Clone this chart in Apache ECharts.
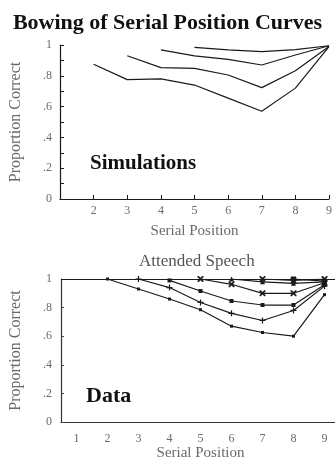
<!DOCTYPE html>
<html>
<head>
<meta charset="utf-8">
<script src="https://cdn.jsdelivr.net/npm/echarts@6/dist/echarts.min.js"></script>
<style>
  html, body { margin: 0; padding: 0; background: #fff; }
  #main { width: 335px; height: 472px; }
</style>
</head>
<body>
<div id="main"></div>
<script>
// top panel: simulations, each curve starts at a different serial position
var simStarts = [2, 3, 4, 5];
var simA = [0.875, 0.775, 0.78, 0.74, 0.655, 0.57, 0.72, 0.99];
var simB = [0.93, 0.853, 0.848, 0.805, 0.723, 0.833, 0.99];
var simC = [0.968, 0.929, 0.907, 0.87, 0.935, 0.995];
var simD = [0.985, 0.968, 0.957, 0.97, 0.995];

// bottom panel: attended speech data
var positions = ['1', '2', '3', '4', '5', '6', '7', '8', '9'];
var data1 = [null, 1.0, 0.93, 0.86, 0.785, 0.67, 0.626, 0.6, 0.89];
var data2 = [null, null, 1.0, 0.94, 0.836, 0.76, 0.71, 0.78, 0.95];
var data3 = [null, null, null, 0.99, 0.916, 0.846, 0.818, 0.818, 0.96];
var data4 = [null, null, null, null, 1.0, 0.963, 0.9, 0.9, 0.974];
var data5 = [null, null, null, null, null, 1.0, 0.98, 0.97, 0.98];
var data6 = [null, null, null, null, null, null, 1.0, 0.99, 1.0];
var data7 = [null, null, null, null, null, null, null, 1.0, 0.985];

var serif = '"Liberation Serif", "DejaVu Serif", serif';
var lineCol = '#1a1a1a';
var labelCol = '#6a6a6a';

function propLabel(v) {
    if (v === 0) return '0';
    if (v === 1) return '1';
    return String(Math.round(v * 10) / 10).replace('0.', '.');
}

var dom = document.getElementById('main');
var chart = echarts.init(dom);

var simSeries = [];
var sims = [simA, simB, simC, simD];
for (var i = 0; i < sims.length; i++) {
    var pts = [];
    for (var j = 0; j < sims[i].length; j++) {
        pts.push([simStarts[i] + j, sims[i][j]]);
    }
    simSeries.push({
        type: 'line',
        xAxisIndex: 0,
        yAxisIndex: 0,
        data: pts,
        symbol: 'none',
        lineStyle: { color: lineCol, width: 1.2 }
    });
}

var plusPath = 'path://M4,0L6,0L6,4L10,4L10,6L6,6L6,10L4,10L4,6L0,6L0,4L4,4Z';
var starPath = 'path://M0,0L2,0L5,3L8,0L10,0L10,2L7,5L10,8L10,10L8,10L5,7L2,10L0,10L0,8L3,5L0,2Z';
var dataSets = [data1, data2, data3, data4, data5, data6, data7];
var symbols = ['rect', plusPath, 'rect', starPath, 'triangle', starPath, 'rect'];
var sizes = [3, 6, 4, 6, 5, 6, 5];
var dataSeries = [];
for (var k = 0; k < dataSets.length; k++) {
    dataSeries.push({
        type: 'line',
        xAxisIndex: 1,
        yAxisIndex: 1,
        data: dataSets[k],
        symbol: symbols[k],
        symbolSize: sizes[k],
        showSymbol: true,
        itemStyle: { color: lineCol },
        lineStyle: { color: lineCol, width: 1.2 }
    });
}
// horizontal line at 1 across the data panel
dataSeries[0].markLine = {
    silent: true,
    symbol: 'none',
    label: { show: false },
    lineStyle: { color: lineCol, width: 1.2, type: 'solid' },
    data: [{ yAxis: 1 }]
};

var option = {
    backgroundColor: '#fff',
    animation: false,
    title: {
        text: 'Bowing of Serial Position Curves',
        left: 'center',
        top: 7,
        textStyle: { fontFamily: serif, fontWeight: 'bold', fontSize: 22, color: '#111' }
    },
    grid: [
        { left: 60, top: 45, width: 269, height: 154, outerBoundsMode: 'none', containLabel: false },
        { left: 61, top: 279, width: 279, height: 143, outerBoundsMode: 'none', containLabel: false }
    ],
    xAxis: [
        {
            gridIndex: 0,
            type: 'value',
            min: 1, max: 9, interval: 1,
            name: 'Serial Position',
            nameLocation: 'middle',
            nameGap: 25,
            nameTextStyle: { fontFamily: serif, fontSize: 15, color: labelCol },
            axisLine: { lineStyle: { color: lineCol, width: 1.2 } },
            axisTick: { inside: true, length: 4, lineStyle: { color: lineCol } },
            axisLabel: {
                margin: 6, fontFamily: serif, fontSize: 12, color: labelCol,
                formatter: function (v) { return v === 1 ? '' : String(v); }
            },
            splitLine: { show: false }
        },
        {
            gridIndex: 1,
            type: 'category',
            data: positions,
            boundaryGap: true,
            name: 'Serial Position',
            nameLocation: 'middle',
            nameGap: 24,
            nameTextStyle: { fontFamily: serif, fontSize: 15, color: labelCol },
            axisLine: { lineStyle: { color: '#333', width: 1.2 } },
            axisTick: { length: 3, lineStyle: { color: '#666' } },
            axisLabel: { margin: 11, fontFamily: serif, fontSize: 12, color: labelCol },
            splitLine: { show: false }
        }
    ],
    yAxis: [
        {
            gridIndex: 0,
            type: 'value',
            min: 0, max: 1, interval: 0.1,
            name: 'Proportion Correct',
            nameLocation: 'middle',
            nameGap: 36,
            nameTextStyle: { fontFamily: serif, fontSize: 16, color: labelCol },
            axisLine: { show: true, lineStyle: { color: lineCol, width: 1.2 } },
            axisTick: { show: true, inside: true, length: 4, lineStyle: { color: lineCol } },
            axisLabel: {
                margin: 8, fontFamily: serif, fontSize: 12, color: labelCol,
                formatter: function (v) {
                    return Math.round(v * 10) % 2 === 0 ? propLabel(v) : '';
                }
            },
            splitLine: { show: false }
        },
        {
            gridIndex: 1,
            type: 'value',
            min: 0, max: 1, interval: 0.2,
            name: 'Proportion Correct',
            nameLocation: 'middle',
            nameGap: 37,
            nameTextStyle: { fontFamily: serif, fontSize: 16, color: labelCol },
            axisLine: { show: true, lineStyle: { color: '#333', width: 1.2 } },
            axisTick: { show: true, inside: true, length: 3, lineStyle: { color: '#444' } },
            axisLabel: { margin: 9, fontFamily: serif, fontSize: 12, color: labelCol, formatter: propLabel },
            splitLine: { show: false }
        }
    ],
    graphic: [
        {
            type: 'text', left: 90, top: 153,
            style: { text: 'Simulations', font: 'bold 21px ' + serif, fill: '#111' }
        },
        {
            type: 'text', left: 86, top: 385,
            style: { text: 'Data', font: 'bold 22px ' + serif, fill: '#111' }
        },
        {
            type: 'text', left: 139, top: 253,
            style: { text: 'Attended Speech', font: '17px ' + serif, fill: '#555' }
        }
    ],
    series: simSeries.concat(dataSeries)
};

chart.setOption(option);
</script>
</body>
</html>
